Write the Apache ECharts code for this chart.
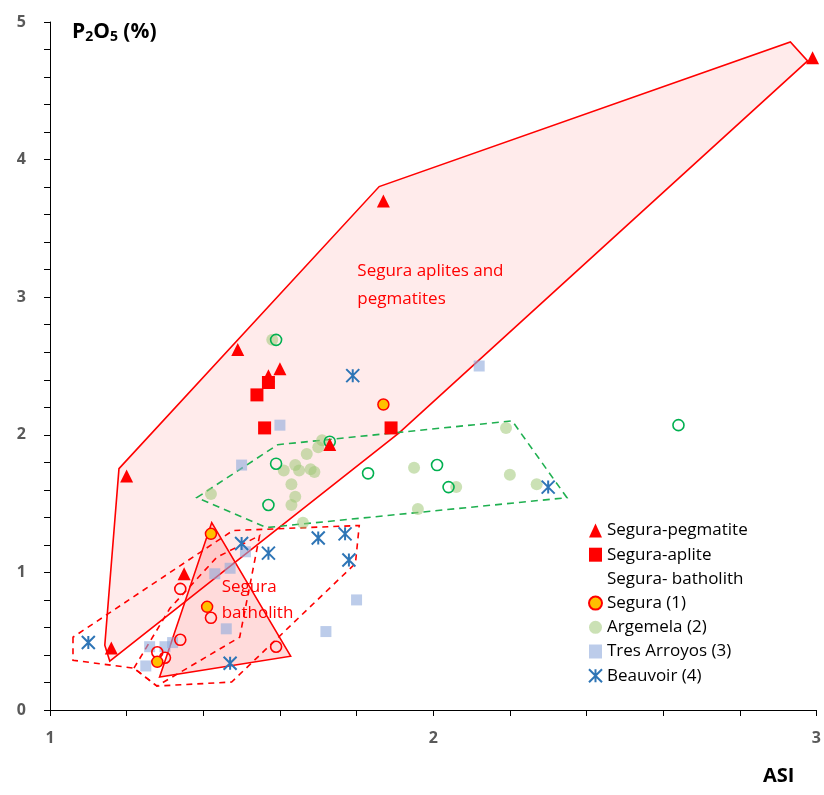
<!DOCTYPE html>
<html>
<head>
<meta charset="utf-8">
<script src="https://cdn.jsdelivr.net/npm/echarts@6/dist/echarts.min.js"></script>
<style>
html,body{margin:0;padding:0;background:#fff;}
#chart{width:824px;height:795px;}
</style>
</head>
<body>
<div id="chart"></div>
<script>
// points (ASI, P2O5 %)
var pegmatite = [[2.99,4.74],[1.87,3.70],[1.49,2.62],[1.60,2.48],[1.57,2.43],[1.73,1.93],[1.20,1.70],[1.35,0.99],[1.16,0.45]];
var aplite = [[1.57,2.38],[1.54,2.29],[1.56,2.05],[1.89,2.05]];
var batholith = [[1.34,0.88],[1.42,0.67],[1.34,0.51],[1.59,0.46],[1.30,0.38],[1.28,0.42]];
var segura1 = [[1.42,1.28],[1.41,0.75],[1.28,0.35],[1.87,2.22]];
var argemela = [[1.58,2.69],[1.71,1.96],[1.70,1.91],[1.67,1.86],[1.61,1.74],[1.64,1.78],[1.65,1.74],[1.68,1.75],[1.69,1.73],[1.63,1.64],[1.64,1.55],[1.63,1.49],[1.42,1.57],[1.66,1.36],[2.19,2.05],[1.95,1.76],[2.06,1.62],[2.20,1.71],[2.27,1.64],[1.96,1.46]];
var argemelaOpen = [[1.59,2.69],[1.73,1.95],[1.59,1.79],[1.57,1.49],[1.83,1.72],[2.01,1.78],[2.04,1.62],[2.64,2.07]];
var tresArroyos = [[2.12,2.50],[1.60,2.07],[1.50,1.78],[1.80,0.80],[1.72,0.57],[1.51,1.15],[1.47,1.03],[1.43,0.99],[1.46,0.59],[1.32,0.49],[1.30,0.46],[1.26,0.46],[1.25,0.32]];
var beauvoir = [[1.79,2.43],[1.10,0.49],[1.50,1.21],[1.57,1.14],[1.47,0.34],[1.70,1.25],[1.77,1.28],[1.78,1.09],[2.30,1.62]];

// field outlines
var apliteField = [[1.180,1.754],[1.859,3.804],[2.932,4.855],[2.977,4.717],[1.911,2.014],[1.156,0.355],[1.143,0.471]];
var batholithField = [[1.422,1.362],[1.628,0.391],[1.286,0.239]];
var batholithDashA = [[1.060,0.529],[1.060,0.362],[1.219,0.304],[1.279,0.174],[1.474,0.203],[1.797,1.065],[1.807,1.341],[1.477,1.304]];
var batholithDashB = [[1.219,0.304],[1.313,0.739],[1.435,1.109],[1.547,1.268],[1.495,0.529],[1.279,0.174]];
var argemelaField = [[1.383,1.543],[1.594,1.928],[2.206,2.101],[2.349,1.543],[1.565,1.326]];

var labelFont = 'Open Sans';
var chart = echarts.init(document.getElementById('chart'));

var poly = function(pts, fill, stroke, dash, z){
    return {
        type:'custom',
        silent:true,
        z:z,
        data:pts,
        renderItem:function(params, api){
            if(params.dataIndex !== 0) return null;
            var coords = pts.map(function(p){ return api.coord(p); });
            return {
                type:'polygon',
                shape:{points:coords},
                style:{fill:fill, stroke:stroke, lineWidth:1.6, lineDash:dash}
            };
        }
    };
};

var isInt = function(v){ return Math.abs(v - Math.round(v)) < 1e-6 ? String(Math.round(v)) : ''; };

chart.setOption({
    animation:false,
    textStyle:{fontFamily:labelFont},
    grid:{left:50, right:6, top:22, bottom:85},
    xAxis:{
        type:'value', min:1, max:3, interval:0.2,
        axisLine:{lineStyle:{color:'#000', width:1}},
        axisTick:{lineStyle:{color:'#000'}, length:6},
        axisLabel:{formatter:isInt, color:'#595959', fontWeight:'bold', fontSize:16, margin:20},
        splitLine:{show:false}
    },
    yAxis:{
        type:'value', min:0, max:5, interval:0.2,
        axisLine:{show:true, lineStyle:{color:'#000', width:1}},
        axisTick:{show:true, lineStyle:{color:'#000'}, length:6},
        axisLabel:{formatter:isInt, color:'#595959', fontWeight:'bold', fontSize:16, margin:24},
        splitLine:{show:false}
    },
    legend:{
        orient:'vertical',
        left:583, top:517,
        itemWidth:13, itemHeight:14, itemGap:7.2,
        textStyle:{fontSize:17, color:'#000', fontFamily:labelFont},
        data:[
            'Segura-pegmatite',
            'Segura-aplite',
            {name:'Segura- batholith', itemStyle:{opacity:0}},
            'Segura (1)',
            'Argemela (2)',
            'Tres Arroyos (3)',
            'Beauvoir (4)'
        ]
    },
    graphic:[
        {type:'text', left:72, top:22, style:{
            text:'{b|P}{s|2}{b|O}{s|5}{b| (%)}',
            rich:{
                b:{fontSize:21, fontWeight:'bold', fill:'#000', fontFamily:labelFont},
                s:{fontSize:14, fontWeight:'bold', fill:'#000', fontFamily:labelFont, padding:[9,0,0,0]}
            }
        }},
        {type:'text', left:763, top:766, style:{text:'ASI', fontSize:20, fontWeight:'bold', fill:'#000', fontFamily:labelFont}}
    ],
    series:[
        poly(apliteField, 'rgba(255,0,0,0.08)', '#ff0000', null, 1),
        poly(batholithField, 'rgba(255,0,0,0.14)', '#ff0000', null, 2),
        poly(batholithDashA, 'transparent', '#ff0000', [6,5], 2),
        poly(batholithDashB, 'transparent', '#ff0000', [6,5], 2),
        poly(argemelaField, 'transparent', '#1fb050', [7,5], 2),
        {
            type:'scatter', silent:true, z:3, symbolSize:0,
            itemStyle:{opacity:1},
            data:[[1.802,3.09]],
            label:{show:true, position:'right', distance:0, formatter:'Segura aplites and\npegmatites',
                color:'#ff0000', opacity:1, fontSize:17, lineHeight:28, fontFamily:labelFont}
        },
        {
            type:'scatter', silent:true, z:3, symbolSize:0,
            itemStyle:{opacity:1},
            data:[[1.448,0.80]],
            label:{show:true, position:'right', distance:0, formatter:'Segura\nbatholith',
                color:'#ff0000', opacity:1, fontSize:17, lineHeight:26, fontFamily:labelFont}
        },
        {
            name:'Argemela (2)', type:'scatter', z:4, symbol:'circle', symbolSize:12,
            itemStyle:{color:'rgba(160,200,120,0.55)', opacity:1},
            data:argemela
        },
        {
            name:'Argemela open', type:'scatter', z:4, symbol:'circle', symbolSize:11,
            itemStyle:{color:'transparent', borderColor:'#00b050', borderWidth:1.6, opacity:1},
            data:argemelaOpen
        },
        {
            name:'Tres Arroyos (3)', type:'scatter', z:4, symbol:'rect', symbolSize:11,
            itemStyle:{color:'rgba(143,170,220,0.6)', opacity:1},
            data:tresArroyos
        },
        {
            name:'Segura- batholith', type:'scatter', z:5, symbol:'circle', symbolSize:11,
            itemStyle:{color:'transparent', borderColor:'#ff0000', borderWidth:1.6, opacity:1},
            data:batholith
        },
        {
            name:'Segura (1)', type:'scatter', z:5, symbol:'circle', symbolSize:11,
            itemStyle:{color:'#ffc000', borderColor:'#ff0000', borderWidth:1.5, opacity:1},
            data:segura1
        },
        {
            name:'Segura-pegmatite', type:'scatter', z:5, symbol:'triangle', symbolSize:13,
            itemStyle:{color:'#ff0000', opacity:1},
            data:pegmatite
        },
        {
            name:'Segura-aplite', type:'scatter', z:5, symbol:'rect', symbolSize:13,
            itemStyle:{color:'#ff0000', opacity:1},
            data:aplite
        },
        {
            name:'Beauvoir (4)', type:'scatter', z:6,
            symbol:'path://M0,0L10,10M10,0L0,10M5,0L5,10', symbolSize:13,
            itemStyle:{color:'transparent', borderColor:'#2e75b6', borderWidth:2, opacity:1},
            data:beauvoir
        }
    ]
});
</script>
</body>
</html>
